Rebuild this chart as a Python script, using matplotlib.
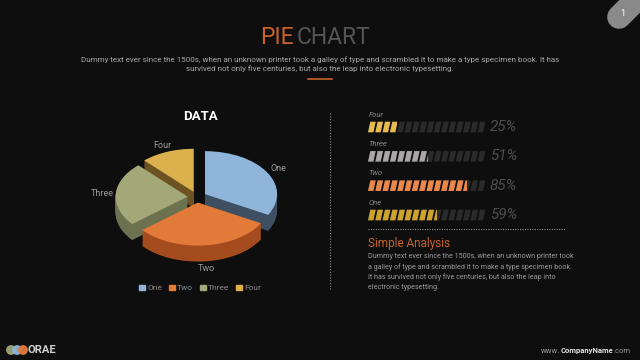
import matplotlib.pyplot as plt
import numpy as np
from matplotlib.patches import Wedge, Polygon, Rectangle, Circle

plt.rcParams["font.family"] = ["Roboto", "DejaVu Sans"]

# pie data
pie_labels = ["One", "Two", "Three", "Four"]
pie_shares = [33, 31, 24, 12]
pie_top = ["#8fb5da", "#e27a3a", "#a2a877", "#ddb04e"]
pie_side = ["#3e4f62", "#a44c1e", "#6c7150", "#6e5322"]

# progress bars
bar_labels = ["Four", "Three", "Two", "One"]
bar_values = [25, 51, 85, 59]
bar_colors = ["#e8bb4f", "#aaa5a6", "#ea874b", "#cca42c"]

BG = "#0e0e0e"
ORANGE = "#c8622a"
body = ("Dummy text ever since the 1500s, when an unknown printer took a galley of type and "
        "scrambled it to make a type specimen book. It has\nsurvived not only five centuries, "
        "but also the leap into electronic typesetting.")
analysis = ("Dummy text ever since the 1500s, when an unknown printer took\n"
            "a galley of type and scrambled it to make a type specimen book.\n"
            "It has survived not only five centuries, but also the leap into\n"
            "electronic typesetting.")

fig = plt.figure(figsize=(6.4, 3.6), dpi=100, facecolor=BG)

# page-level layer in pixel coordinates
bg = fig.add_axes([0, 0, 1, 1])
bg.set_xlim(0, 640)
bg.set_ylim(360, 0)
bg.axis("off")

bg.text(294, 37, "PIE", color=ORANGE, fontsize=16.5, ha="right", va="center")
bg.text(297, 37, "CHART", color="#555555", fontsize=16.5, ha="left", va="center")
bg.text(320, 64, body, color="#a8a8a8", fontsize=5.75, ha="center", va="center",
        linespacing=1.4)
bg.plot([308, 332], [79, 79], color=ORANGE, lw=1.2)

# page tab
bg.plot([619, 660], [17, -24], color="#8a8a8a", lw=17, solid_capstyle="round")
bg.text(623, 14, "1", color="white", fontsize=6.5, ha="center", va="center")

# dividers
bg.plot([330, 330], [113, 290], color="#8a8a8a", lw=0.8, ls=(0, (1, 1.5)))
bg.plot([368, 565], [229, 229], color="#8a8a8a", lw=0.8, ls=(0, (1, 1.2)))

bg.text(200, 116, "DATA", color="white", fontsize=9.5, fontweight="bold",
        ha="center", va="center")

bg.text(368, 243, "Simple Analysis", color=ORANGE, fontsize=8.5, ha="left", va="center")
bg.text(368, 272, analysis, color="#9a9a9a", fontsize=5.15, ha="left", va="center",
        linespacing=1.5)

# footer
for cx, c in zip([11, 17, 23], ["#9ea677", "#8fb4d9", "#e07a3c"]):
    bg.add_patch(Circle((cx, 350), 4.2, color=c, alpha=0.95))
bg.text(28, 350, "ORAE", color="#d0d0d0", fontsize=8, fontweight="bold",
        ha="left", va="center")

renderer = fig.canvas.get_renderer()
x = 541
for part, col, w in [("www.", "#9a9a9a", "normal"), ("CompanyName", "#e0e0e0", "bold"),
                     (".com", "#9a9a9a", "normal")]:
    t = bg.text(x, 351, part, color=col, fontsize=5.5, fontweight=w, ha="left", va="center")
    ext = t.get_window_extent(renderer)
    x = bg.transData.inverted().transform((ext.x1, ext.y0))[0]

# 3D-ish exploded pie
cx, cy = 197, 197
sx, sy = 72, 43
ax = fig.add_axes([(cx - 2 * sx) / 640, (360 - cy - 2 * sy) / 360, 4 * sx / 640, 4 * sy / 360])
ax.set_xlim(-2, 2)
ax.set_ylim(-2, 2)
ax.axis("off")
ax.patch.set_alpha(0)

depth = 16 / sy
explode = 0.13
total = sum(pie_shares)
start = 90.0
slices = []
for lab, v, ct, cs in zip(pie_labels, pie_shares, pie_top, pie_side):
    t2 = start
    t1 = start - v / total * 360
    start = t1
    mid = np.radians((t1 + t2) / 2)
    slices.append((lab, t1, t2, mid, ct, cs))

for lab, t1, t2, mid, ct, cs in sorted(slices, key=lambda s: -np.sin(s[3])):
    ox, oy = explode * np.cos(mid), explode * np.sin(mid)
    for d in np.linspace(depth, 0, 34)[:-1]:
        ax.add_patch(Wedge((ox, oy - d), 1, t1, t2, facecolor=cs, lw=0))
    ax.add_patch(Wedge((ox, oy), 1, t1, t2, facecolor=ct, lw=0))

for lab, t1, t2, mid, ct, cs in slices:
    lx, ly = 1.32 * np.cos(mid), 1.3 * np.sin(mid)
    if ly < 0:
        ly -= depth
    ax.text(lx, ly, lab, color="#9a9a9a", fontsize=6.5, ha="center", va="center")

handles = [Rectangle((0, 0), 1, 1, color=c) for c in pie_top]
ax.legend(handles, pie_labels, ncol=4, loc="center", bbox_to_anchor=(200 / 640, 1 - 288 / 360),
          bbox_transform=fig.transFigure, frameon=False, fontsize=6, handlelength=0.7,
          handleheight=0.7, columnspacing=0.8, handletextpad=0.3, labelcolor="#8a8a8a")

# striped progress bars
bx = fig.add_axes([368 / 640, (360 - 229.7) / 360, 117 / 640, 124.7 / 360])
bx.set_xlim(0, 100)
bx.set_ylim(3.5, -0.75)
bx.axis("off")
bx.patch.set_alpha(0)

n_seg = 16
pitch = 100 / n_seg
seg_w, slant, h = 4.6, 2.0, 0.36
for i, (lab, val, col) in enumerate(zip(bar_labels, bar_values, bar_colors)):
    clip = Rectangle((0, i - 0.5), val, 1, transform=bx.transData)
    for k in range(n_seg):
        x0 = k * pitch
        pts = [(x0, i + h / 2), (x0 + seg_w, i + h / 2),
               (x0 + seg_w + slant, i - h / 2), (x0 + slant, i - h / 2)]
        bx.add_patch(Polygon(pts, closed=True, facecolor="#2a2a2a", lw=0))
        p = Polygon(pts, closed=True, facecolor=col, lw=0)
        bx.add_patch(p)
        p.set_clip_path(clip)
    bx.text(0.5, i - 0.42, lab, color="#8a8a8a", fontsize=5.5, style="italic",
            ha="left", va="center")
    bx.text(104, i, f"{val}%", color="#4d4d4d", fontsize=11, style="italic",
            ha="left", va="center", clip_on=False)

fig.savefig("out.png", dpi=100, facecolor=BG)
